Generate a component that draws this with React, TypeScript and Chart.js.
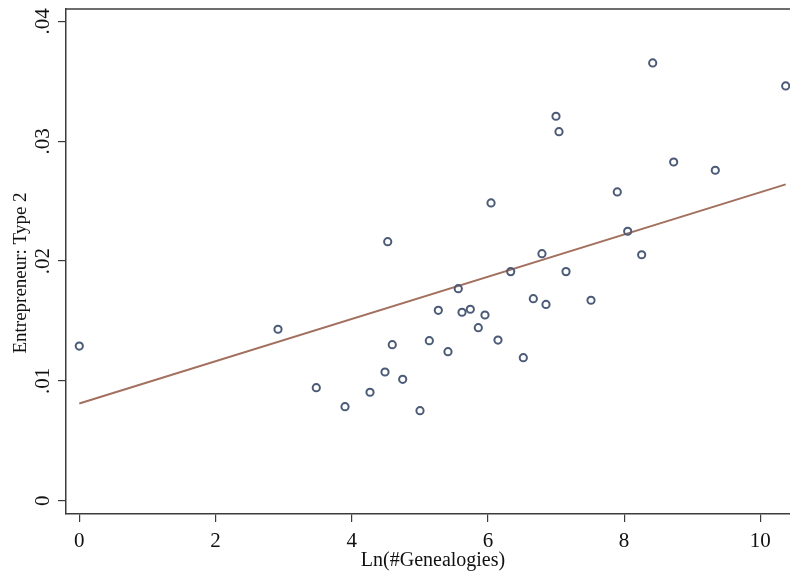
import React, { useEffect, useRef } from 'react';
import { Chart, registerables } from 'chart.js';

Chart.register(...registerables);

// ---- Data ----
const lnGenealogies: number[] = [
  0, 2.918, 3.48, 3.902, 4.269, 4.489, 4.529, 4.596, 4.749, 5.003,
  5.14, 5.272, 5.414, 5.565, 5.62, 5.742, 5.859, 5.957, 6.046, 6.148,
  6.335, 6.52, 6.667, 6.794, 6.853, 7.0, 7.044, 7.147, 7.514, 7.9,
  8.053, 8.258, 8.42, 8.728, 9.339, 10.373,
];
const entrepreneurType2: number[] = [
  0.01291, 0.01431, 0.00943, 0.00785, 0.00905, 0.01074, 0.02162, 0.01302, 0.01013, 0.00751,
  0.01336, 0.01589, 0.01244, 0.0177, 0.01573, 0.01598, 0.01444, 0.0155, 0.02485, 0.01341,
  0.01912, 0.01194, 0.01686, 0.02062, 0.01638, 0.03209, 0.0308, 0.01912, 0.01673, 0.02577,
  0.02249, 0.02053, 0.03654, 0.02827, 0.02758, 0.03462,
];
const fitX: number[] = [0, 10.373];
const fitY: number[] = [0.00811, 0.0264];

const xTicks: number[] = [0, 2, 4, 6, 8, 10];
const xTickLabels: string[] = ['0', '2', '4', '6', '8', '10'];
const yTicks: number[] = [0, 0.01, 0.02, 0.03, 0.04];
const yTickLabels: string[] = ['0', '.01', '.02', '.03', '.04'];

const xTitle = 'Ln(#Genealogies)';
const yTitle = 'Entrepreneur: Type 2';

const FONT = '"Liberation Serif", "Times New Roman", serif';
const AXIS_COLOR = '#3c3c3c';
const MARKER_COLOR = '#4b5a77';
const LINE_COLOR = '#a3705f';

const stataPlugin = {
  id: 'stataDecor',
  afterDraw(chart: any) {
    const ctx = chart.ctx as CanvasRenderingContext2D;
    const xs = chart.scales.x;
    const ys = chart.scales.y;
    const area = chart.chartArea;
    ctx.save();
    // top frame line
    ctx.strokeStyle = AXIS_COLOR;
    ctx.lineWidth = 1.5;
    ctx.beginPath();
    ctx.moveTo(area.left, area.top);
    ctx.lineTo(area.right, area.top);
    ctx.stroke();

    ctx.fillStyle = '#111';
    ctx.textAlign = 'center';
    ctx.textBaseline = 'alphabetic';
    ctx.font = `21px ${FONT}`;
    xTicks.forEach((v, i) => {
      ctx.fillText(xTickLabels[i], xs.getPixelForValue(v), 547);
    });
    yTicks.forEach((v, i) => {
      ctx.save();
      ctx.translate(49, ys.getPixelForValue(v));
      ctx.rotate(-Math.PI / 2);
      ctx.fillText(yTickLabels[i], 0, 0);
      ctx.restore();
    });

    ctx.font = `20px ${FONT}`;
    ctx.fillText(xTitle, 433, 566);
    ctx.save();
    ctx.translate(26, 273);
    ctx.rotate(-Math.PI / 2);
    ctx.font = `19px ${FONT}`;
    ctx.fillText(yTitle, 0, 0);
    ctx.restore();
    ctx.restore();
  },
};

export default function App() {
  const canvasRef = useRef<HTMLCanvasElement | null>(null);

  useEffect(() => {
    if (!canvasRef.current) return;
    const points = lnGenealogies.map((x, i) => ({ x, y: entrepreneurType2[i] }));
    const fit = fitX.map((x, i) => ({ x, y: fitY[i] }));

    const chart = new Chart(canvasRef.current, {
      type: 'scatter',
      data: {
        datasets: [
          {
            type: 'line',
            label: 'Fitted values',
            data: fit,
            borderColor: LINE_COLOR,
            borderWidth: 2,
            pointRadius: 0,
            fill: false,
            order: 2,
          } as any,
          {
            label: 'Entrepreneur: Type 2',
            data: points,
            pointStyle: 'circle',
            pointRadius: 3.6,
            pointBorderWidth: 2,
            borderColor: MARKER_COLOR,
            backgroundColor: 'rgba(0,0,0,0)',
            order: 1,
            clip: 8,
          } as any,
        ],
      },
      options: {
        responsive: false,
        animation: false,
        layout: { autoPadding: false, padding: { top: 9, right: 0, left: 0, bottom: 0 } },
        plugins: {
          legend: { display: false },
          tooltip: { enabled: false },
        },
        scales: {
          x: {
            type: 'linear',
            min: -0.195,
            max: 10.436,
            afterBuildTicks: (scale: any) => {
              scale.ticks = xTicks.map((value) => ({ value }));
            },
            afterFit: (scale: any) => {
              scale.height = 61;
            },
            ticks: { display: false },
            grid: {
              display: true,
              drawOnChartArea: false,
              drawTicks: true,
              tickLength: 8,
              color: AXIS_COLOR,
              lineWidth: 1.2,
            },
            border: { display: true, color: AXIS_COLOR, width: 1.5 },
          },
          y: {
            type: 'linear',
            min: -0.00111,
            max: 0.04104,
            afterBuildTicks: (scale: any) => {
              scale.ticks = yTicks.map((value) => ({ value }));
            },
            afterFit: (scale: any) => {
              scale.width = 66;
            },
            ticks: { display: false },
            grid: {
              display: true,
              drawOnChartArea: false,
              drawTicks: true,
              tickLength: 8,
              color: AXIS_COLOR,
              lineWidth: 1.2,
            },
            border: { display: true, color: AXIS_COLOR, width: 1.5 },
          },
        },
      } as any,
      plugins: [stataPlugin],
    });

    return () => chart.destroy();
  }, []);

  return (
    <div style={{ position: 'fixed', left: 0, top: 0, width: 790, height: 575, background: '#fff' }}>
      <canvas ref={canvasRef} width={790} height={575} style={{ display: 'block', width: 790, height: 575 }} />
    </div>
  );
}
